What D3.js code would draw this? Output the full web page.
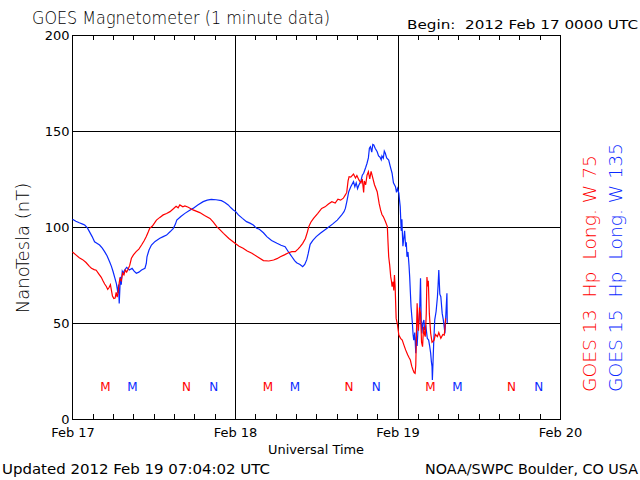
<!DOCTYPE html>
<html>
<head>
<meta charset="utf-8">
<script src="https://cdn.jsdelivr.net/npm/d3@7"></script>
<style>
  html, body { margin: 0; padding: 0; background: #fff; }
  svg { display: block; }
  text { font-family: "DejaVu Sans", sans-serif; font-weight: 400; fill: #000; }
  text.thin { font-weight: 200; }
</style>
</head>
<body>
<svg id="chart" width="640" height="480"></svg>
<script>
// ---- Data (hours since 2012 Feb 17 00:00 UTC, nT) ----
const g13Hours = [0,0.5,1,1.5,2,2.5,2.8,3.2,3.5,3.9,4.25,4.5,4.75,5,5.2,5.4,5.6,5.75,5.9,6.1,6.3,6.45,6.6,6.75,6.9,7,7.2,7.4,7.6,7.8,8,8.2,8.45,8.7,9,9.4,9.8,10.2,10.6,10.9,11.2,11.4,11.8,12.1,12.4,12.9,13.4,13.9,14.4,14.9,15.3,15.6,15.85,16.3,16.6,17.1,17.8,18.8,19.5,20.3,20.8,21.3,21.8,22.3,23.1,24,24.6,25.2,25.8,26.5,27.3,28.2,29,29.7,30.2,30.7,31.3,31.9,32.4,32.9,33.3,33.6,34,34.4,34.7,34.9,35.2,35.6,36.2,36.8,37.3,37.8,38.3,38.8,39.2,39.6,40,40.3,40.5,40.7,40.85,41.1,41.5,41.8,42,42.3,42.6,42.8,43,43.1,43.3,43.5,43.7,43.9,44.1,44.3,44.6,45,45.3,45.5,45.7,45.9,46.2,46.5,46.6,46.7,46.85,47,47.1,47.2,47.35,47.45,47.55,47.65,47.8,48,48.2,48.45,48.7,48.95,49.2,49.5,49.7,49.9,50.1,50.3,50.45,50.6,50.7,50.8,50.9,51,51.1,51.25,51.4,51.55,51.7,51.85,52,52.1,52.25,52.35,52.45,52.55,52.7,52.9,53.1,53.4,53.6,53.9,54.1,54.4,54.7,54.9,55,55.1];
const g13Values = [87,85.5,84,83,81.5,79.5,78.5,77.8,77.5,75.5,73.8,72,70.3,69,67.5,68.5,70,67,64,62.8,63,66,63.5,66.3,71,73,72,76,75,77.5,76.5,78,80,83.7,85.5,87.2,88.5,90.6,93,95,97.5,99.3,100.5,102,103.6,105,106.3,107,108,109.5,110.8,110,111.5,110.5,111,110.3,108.9,107.5,106,104.5,102.5,100.2,98.5,96.7,94,91.5,90,88.9,87.5,86.3,84.5,82.5,82.3,82.8,83.5,84.5,85.5,86.6,87.2,87.2,88.5,89.7,91.5,94,97.5,100.2,102.5,104.5,107,109.7,110.5,112,113.2,112.5,114.5,114,115,116.7,118,124,126.2,126,127.6,125.5,126.8,124.5,123,125,118,124,122,127,128.8,125,129,126.2,122,118.4,112,108.9,106.5,105.4,103,100.2,92,84.5,80,74,72,68.9,71.5,67,75,69,52.4,49,43.7,42,41.1,38.5,36,33.5,32,30.7,27.5,25.5,24.2,23.8,28,45,60.3,50,46,58,55,40,37.7,48,44,42.9,55,74,69,72,55,44.6,40,41.1,44,42.9,45,42,44,43.7,47,52.4];

const g15Hours = [0,0.5,1,1.5,1.8,2.2,2.5,2.9,3.26,3.6,4,4.4,4.74,5.1,5.48,5.75,6,6.25,6.47,6.6,6.7,6.8,6.9,7,7.06,7.2,7.35,7.5,7.7,8,8.4,8.8,9.1,9.43,9.8,10.2,10.7,10.9,11,11.3,11.66,12.2,12.9,13.4,13.9,14.4,14.9,15.2,15.4,16,16.6,17.2,17.8,18.5,19.3,19.9,20.5,21.2,22,22.5,23,23.4,23.75,24.1,24.5,25.1,25.7,26.2,26.7,27.2,27.6,28.2,28.7,29.4,30.2,30.8,31.4,31.9,32.4,32.8,33.1,33.6,34,34.3,34.6,34.8,35.1,35.5,36,36.6,37.1,37.6,38.4,39.1,39.7,40.1,40.3,40.5,40.8,41.1,41.5,41.7,41.9,42.1,42.3,42.6,42.8,43,43.3,43.5,43.7,43.85,44,44.2,44.35,44.5,44.7,45,45.2,45.4,45.6,45.7,45.9,46.05,46.2,46.4,46.7,46.9,47.2,47.4,47.7,47.85,48,48.2,48.3,48.4,48.55,48.65,48.7,48.8,48.9,49.05,49.2,49.3,49.4,49.55,49.7,49.8,49.9,50,50.1,50.2,50.3,50.4,50.55,50.7,50.8,50.9,51.05,51.2,51.3,51.4,51.5,51.6,51.75,51.9,52,52.2,52.4,52.6,52.75,52.9,53,53.1,53.15,53.25,53.35,53.5,53.7,53.9,54,54.1,54.25,54.4,54.6,54.75,54.9,55,55.15,55.3,55.35];
const g15Values = [104,103,102.2,101.5,101,99.5,97.6,95,92.3,91.5,90.6,89,87.2,85,81.9,79.5,76.7,73.5,70.7,68,65.5,70,60.2,68,74,70,77,76,77.6,79,77.6,78.5,77,75.9,76.5,77.6,78.5,81,84.5,88,90.6,92.5,94.1,95,95.8,97.5,99.3,101.5,103.6,105.5,107.1,108.5,109.7,111.5,113.2,114,114.4,114.2,113.7,112.8,111.5,110,108.9,108,106.3,104.5,102.8,102,101,99.3,98.8,97,95,93,91.5,90.5,89.7,87,84.5,82.5,81.4,80.5,79.3,80.5,83,86,91,93,95,96.7,98,99.3,101.5,103.6,106,108,109.7,113,118.4,121,123.6,121,123,120,121.9,124,127,128,131,133.2,136,141,141.8,139,143,142.7,141,139.2,137,136.5,135,137,135.8,139.5,138.4,136,134.9,132,128,123,121,118,120,117.6,114,110.6,98,104,98.4,90,93.2,98,89.7,92,84.5,87,80,74,66,58.5,54,49.8,44,41.1,45,34.2,42.9,38,48,51.6,60,73.3,52,44.6,50,51.6,46.4,48,42,41.1,38,34.2,30,27.2,20.3,30,40,51.6,56,63.7,70,77.6,65,63.7,55,52,48,44.6,55,65.5,50];

const yTicks = [0, 50, 100, 150, 200];
const dayHours = [0, 24, 48, 72];
const dayLabels = ["Feb 17", "Feb 18", "Feb 19", "Feb 20"];
const minorHours = d3.range(3, 72, 3).filter(h => h % 24 !== 0);
// local midnight (M) / noon (N) markers
const g13MidnightHours = [5, 29, 53];
const g13NoonHours = [17, 41, 65];
const g15MidnightHours = [9, 33, 57];
const g15NoonHours = [21, 45, 69];

const red = "#ff0000", blue = "#0a2aff";

const svg = d3.select("#chart");
const x = d3.scaleLinear().domain([0, 72]).range([72.5, 560]);
const y = d3.scaleLinear().domain([0, 200]).range([419, 35]);
const pLeft = 72.5, pRight = 560, pTop = 35, pBottom = 419;

// grid lines
svg.append("g").attr("transform", `translate(${pLeft},0)`)
  .call(d3.axisLeft(y).tickValues([50, 100, 150]).tickSize(-(pRight - pLeft)).tickFormat(""))
  .call(g => g.select(".domain").remove())
  .selectAll("line").attr("stroke", "#000").attr("shape-rendering", "crispEdges");
svg.append("g").attr("transform", `translate(0,${pBottom})`)
  .call(d3.axisBottom(x).tickValues([24, 48]).tickSize(-(pBottom - pTop)).tickFormat(""))
  .call(g => g.select(".domain").remove())
  .selectAll("line").attr("stroke", "#000").attr("shape-rendering", "crispEdges");

// minor ticks (inward) on top and bottom
svg.append("g").attr("transform", `translate(0,${pBottom})`)
  .call(d3.axisBottom(x).tickValues(minorHours).tickSize(-5).tickFormat(""))
  .call(g => g.select(".domain").remove())
  .selectAll("line").attr("stroke", "#000").attr("shape-rendering", "crispEdges");
svg.append("g").attr("transform", `translate(0,${pTop})`)
  .call(d3.axisTop(x).tickValues(minorHours).tickSize(-5).tickFormat(""))
  .call(g => g.select(".domain").remove())
  .selectAll("line").attr("stroke", "#000").attr("shape-rendering", "crispEdges");

// y axis labels
svg.append("g").attr("transform", `translate(${pLeft},0)`)
  .call(d3.axisLeft(y).tickValues(yTicks).tickSize(0).tickPadding(3))
  .call(g => g.select(".domain").remove())
  .selectAll("text").style("font-family", '"DejaVu Sans", sans-serif').style("font-weight", 400)
  .style("font-size", "13px").attr("fill", "#000");

// x axis labels
svg.append("g").attr("transform", `translate(0,${pBottom})`)
  .call(d3.axisBottom(x).tickValues(dayHours).tickFormat((d, i) => dayLabels[i]).tickSize(0).tickPadding(9))
  .call(g => g.select(".domain").remove())
  .selectAll("text").style("font-family", '"DejaVu Sans", sans-serif').style("font-weight", 400)
  .style("font-size", "13px").attr("fill", "#000");

// frame
svg.append("rect").attr("x", pLeft).attr("y", pTop).attr("width", pRight - pLeft).attr("height", pBottom - pTop)
  .attr("fill", "none").attr("stroke", "#000").attr("shape-rendering", "crispEdges");

// series
const line = d3.line().x(d => x(d[0])).y(d => y(d[1]));
const g13 = g13Hours.map((h, i) => [h, g13Values[i]]);
const g15 = g15Hours.map((h, i) => [h, g15Values[i]]);
svg.append("path").datum(g15).attr("d", line).attr("fill", "none").attr("stroke", blue).attr("stroke-width", 1.2);
svg.append("path").datum(g13).attr("d", line).attr("fill", "none").attr("stroke", red).attr("stroke-width", 1.2);

// M / N markers
function markers(hours, label, color) {
  svg.append("g").selectAll("text").data(hours).join("text")
    .attr("x", d => x(d) - 1).attr("y", 391).attr("text-anchor", "middle")
    .style("font-size", "12px").style("fill", color).text(label);
}
markers(g13MidnightHours, "M", red);
markers(g13NoonHours, "N", red);
markers(g15MidnightHours, "M", blue);
markers(g15NoonHours, "N", blue);

// titles
svg.append("text").attr("class", "thin").attr("x", 32).attr("y", 24).style("font-size", "17px")
  .attr("textLength", 298).attr("lengthAdjust", "spacingAndGlyphs").text("GOES Magnetometer (1 minute data)");
svg.append("text").attr("x", 407).attr("y", 29).style("font-size", "13px").style("white-space", "pre")
  .attr("textLength", 231).attr("lengthAdjust", "spacingAndGlyphs").text("Begin:  2012 Feb 17 0000 UTC");
svg.append("text").attr("x", 316).attr("y", 454).attr("text-anchor", "middle").style("font-size", "13px")
  .attr("textLength", 96).attr("lengthAdjust", "spacingAndGlyphs").text("Universal Time");
svg.append("text").attr("x", 2).attr("y", 474).style("font-size", "14px")
  .attr("textLength", 268).attr("lengthAdjust", "spacingAndGlyphs").text("Updated 2012 Feb 19 07:04:02 UTC");
svg.append("text").attr("x", 425).attr("y", 474).style("font-size", "14px")
  .attr("textLength", 213).attr("lengthAdjust", "spacingAndGlyphs").text("NOAA/SWPC Boulder, CO USA");
svg.append("text").attr("class", "thin").attr("transform", "translate(29,248) rotate(-90)").attr("text-anchor", "middle")
  .style("font-size", "18px").text("NanoTesla (nT)");

// satellite labels (rotated)
svg.append("text").attr("class", "thin").attr("transform", "translate(596,392) rotate(-90)").style("font-size", "18px")
  .style("white-space", "pre").style("fill", red)
  .attr("textLength", 237).attr("lengthAdjust", "spacingAndGlyphs").text("GOES 13  Hp  Long. W 75");
svg.append("text").attr("class", "thin").attr("transform", "translate(622,392) rotate(-90)").style("font-size", "18px")
  .style("white-space", "pre").style("fill", blue)
  .attr("textLength", 249).attr("lengthAdjust", "spacingAndGlyphs").text("GOES 15  Hp  Long. W 135");
</script>
</body>
</html>
